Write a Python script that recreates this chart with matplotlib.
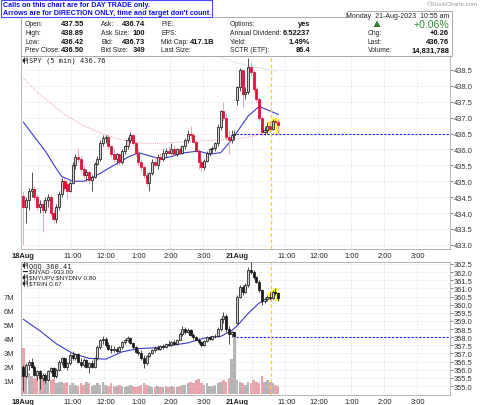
import matplotlib
matplotlib.use("Agg")
import matplotlib.pyplot as plt
from matplotlib.patches import Rectangle, Polygon
from matplotlib.lines import Line2D
import numpy as np

plt.rcParams['font.family'] = ['Liberation Sans', 'DejaVu Sans']

# ---------------- data ----------------
spy_open = [434.55, 434.2, 434.4, 434.7, 434.75, 434.5, 434.2, 434.3, 434.1, 434.4,
            434.5, 434.0, 433.8, 434.2, 434.6, 435.0, 434.9, 434.7, 434.95, 435.5,
            435.75, 435.7, 435.4, 435.2, 435.3, 435.05, 435.15, 435.55, 435.7, 436.2,
            436.35, 436.4, 436.1, 435.85, 435.7, 435.85, 435.6, 435.95, 436.1, 436.3,
            436.45, 436.2, 435.9, 435.6, 435.45, 435.2, 434.95, 435.25, 435.6, 435.5,
            435.75, 435.7, 435.9, 435.95, 435.9, 436.0, 435.85, 436.0, 435.9, 436.1,
            436.3, 436.5, 436.45, 436.25, 435.95, 435.6, 435.45, 435.65, 435.9, 436.0,
            436.05, 436.2, 436.7, 437.2, 437.0, 436.4, 436.3, 436.45,
            437.55, 437.95, 438.5, 437.75, 437.8, 438.6, 438.45, 437.9, 437.6, 437.0,
            436.55, 436.6, 436.75, 436.65, 436.9, 436.85]
spy_high = [434.7, 434.5, 434.8, 435.3, 434.85, 434.6, 434.4, 434.4, 434.5, 434.6,
            434.6, 434.1, 434.3, 434.7, 435.1, 435.1, 435.0, 435.0, 435.6, 435.85,
            436.0, 435.8, 435.5, 435.4, 435.35, 435.2, 435.6, 435.8, 436.3, 436.45,
            436.45, 436.5, 436.15, 436.0, 435.9, 435.9, 436.0, 436.15, 436.4, 436.55,
            436.5, 436.25, 436.0, 435.7, 435.5, 435.3, 435.3, 435.7, 435.8, 435.85,
            435.9, 436.0, 436.05, 436.1, 436.2, 436.15, 436.05, 436.1, 436.15, 436.35,
            436.6, 436.75, 436.55, 436.3, 436.0, 435.7, 435.7, 435.95, 436.05, 436.1,
            436.25, 436.8, 437.25, 437.5, 437.15, 436.6, 436.6, 436.6,
            438.0, 438.55, 438.5, 437.95, 438.89, 438.75, 438.5, 437.95, 437.65, 437.05,
            436.75, 436.85, 436.9, 436.95, 437.0, 436.95]
spy_low = [433.0, 433.7, 434.1, 434.5, 434.4, 434.1, 434.0, 433.4, 434.0, 434.2,
           433.9, 433.7, 433.7, 434.1, 434.5, 434.7, 434.45, 434.65, 434.9, 435.4,
           435.6, 435.3, 435.1, 435.0, 434.9, 434.7, 435.1, 435.5, 435.65, 436.1,
           436.2, 436.0, 435.75, 435.6, 435.55, 435.5, 435.55, 435.85, 436.0, 436.2,
           436.1, 435.8, 435.5, 435.3, 435.1, 434.85, 434.7, 435.2, 435.45, 435.4,
           435.6, 435.65, 435.75, 435.85, 435.85, 435.8, 435.8, 435.85, 435.85, 436.0,
           436.2, 436.35, 436.2, 435.9, 435.4, 435.3, 435.35, 435.6, 435.8, 435.9,
           435.95, 436.1, 436.6, 436.9, 436.3, 435.85, 436.2, 436.3,
           437.4, 437.85, 437.35, 437.6, 437.75, 438.3, 437.8, 437.5, 436.9, 436.42,
           436.45, 436.5, 436.55, 436.6, 436.8, 436.5]
spy_close = [434.2, 434.4, 434.7, 434.75, 434.5, 434.2, 434.3, 434.1, 434.4, 434.5,
             434.0, 433.8, 434.2, 434.6, 435.0, 434.8, 434.7, 434.95, 435.5, 435.75,
             435.7, 435.4, 435.2, 435.3, 435.05, 435.15, 435.55, 435.7, 436.2, 436.35,
             436.4, 436.1, 435.85, 435.7, 435.85, 435.6, 435.95, 436.1, 436.3, 436.45,
             436.2, 435.9, 435.6, 435.45, 435.2, 434.95, 435.25, 435.6, 435.5, 435.75,
             435.7, 435.9, 435.95, 435.9, 436.0, 435.85, 436.0, 435.9, 436.1, 436.3,
             436.5, 436.45, 436.25, 435.95, 435.6, 435.45, 435.65, 435.9, 436.0, 436.05,
             436.2, 436.7, 437.2, 437.0, 436.4, 436.3, 436.45, 436.5,
             437.95, 438.5, 437.75, 437.8, 438.6, 438.45, 437.9, 437.6, 437.0, 436.55,
             436.6, 436.75, 436.65, 436.9, 436.85, 436.76]

qqq_open = [356.2, 355.6, 356.3, 356.5, 356.2, 355.7, 355.9, 355.5, 355.7, 355.4,
            355.9, 356.1, 355.6, 356.0, 356.5, 356.7, 356.2, 356.4, 356.9, 356.7,
            356.95, 356.5, 356.3, 356.6, 356.2, 356.4, 356.2, 356.7, 357.4, 357.8,
            357.9, 357.5, 357.3, 357.2, 357.3, 357.15, 357.4, 357.7, 357.85, 357.95,
            357.65, 357.4, 357.1, 357.0, 356.7, 356.4, 356.85, 357.05, 357.2, 357.35,
            357.3, 357.45, 357.4, 357.6, 357.5, 357.7, 357.6, 357.85, 358.2, 358.5,
            358.3, 358.45, 358.15, 358.0, 357.85, 357.7, 357.5, 357.75, 358.0, 357.9,
            358.05, 358.1, 358.5, 359.1, 359.3, 358.5, 358.2, 358.3,
            358.9, 360.5, 361.1, 360.8, 361.2, 362.1, 362.0, 361.7, 361.4, 360.9,
            360.2, 360.35, 360.5, 360.4, 360.8, 360.7]
qqq_high = [356.3, 356.4, 356.6, 356.7, 356.3, 356.0, 356.0, 355.8, 355.8, 356.0,
            356.2, 356.2, 356.1, 356.6, 356.8, 356.8, 356.5, 357.0, 357.15, 357.0,
            357.0, 356.7, 356.7, 356.65, 356.5, 356.6, 356.8, 357.5, 357.9, 358.1,
            358.0, 357.7, 357.5, 357.45, 357.4, 357.45, 357.75, 357.9, 358.05, 358.0,
            357.7, 357.45, 357.3, 357.2, 356.9, 356.9, 357.1, 357.3, 357.45, 357.55,
            357.5, 357.6, 357.65, 357.8, 357.75, 357.85, 357.9, 358.3, 358.7, 358.6,
            358.55, 358.5, 358.25, 358.1, 357.95, 357.75, 357.8, 358.05, 358.1, 358.1,
            358.2, 358.6, 359.2, 359.55, 359.4, 358.7, 358.4, 358.4,
            360.6, 361.2, 361.2, 361.3, 362.3, 362.6, 362.1, 361.75, 361.5, 360.95,
            360.45, 360.6, 360.8, 360.9, 361.0, 360.8]
qqq_low = [354.7, 355.5, 356.0, 356.1, 355.6, 355.4, 354.8, 355.3, 355.2, 355.3,
           355.8, 355.5, 355.5, 355.9, 356.3, 356.1, 356.0, 356.3, 356.6, 356.6,
           356.4, 356.2, 356.2, 356.1, 355.8, 356.1, 356.1, 356.6, 357.3, 357.6,
           357.4, 357.2, 357.0, 357.1, 357.05, 357.1, 357.3, 357.6, 357.7, 357.6,
           357.3, 357.0, 356.9, 356.6, 356.1, 356.3, 356.8, 356.95, 357.1, 357.2,
           357.2, 357.3, 357.35, 357.45, 357.45, 357.55, 357.55, 357.8, 358.1, 358.2,
           358.25, 358.1, 357.9, 357.8, 357.6, 357.4, 357.45, 357.7, 357.85, 357.85,
           357.95, 358.0, 358.4, 358.9, 358.3, 357.6, 358.0, 358.0,
           358.8, 360.4, 360.6, 360.7, 361.1, 361.9, 361.6, 361.3, 360.8, 360.0,
           360.1, 360.2, 360.3, 360.35, 360.6, 360.2]
qqq_close = [355.6, 356.3, 356.5, 356.2, 355.7, 355.9, 355.5, 355.7, 355.4, 355.9,
             356.1, 355.6, 356.0, 356.5, 356.7, 356.2, 356.4, 356.9, 356.7, 356.95,
             356.5, 356.3, 356.6, 356.2, 356.4, 356.2, 356.7, 357.4, 357.8, 357.9,
             357.5, 357.3, 357.2, 357.3, 357.15, 357.4, 357.7, 357.85, 357.95, 357.65,
             357.4, 357.1, 357.0, 356.7, 356.4, 356.85, 357.05, 357.2, 357.35, 357.3,
             357.45, 357.4, 357.6, 357.5, 357.7, 357.6, 357.85, 358.2, 358.5, 358.3,
             358.45, 358.15, 358.0, 357.85, 357.7, 357.5, 357.75, 358.0, 357.9, 358.05,
             358.1, 358.5, 359.1, 359.3, 358.5, 358.2, 358.3, 358.1,
             360.5, 361.1, 360.8, 361.2, 362.1, 362.0, 361.7, 361.4, 360.9, 360.2,
             360.35, 360.5, 360.4, 360.8, 360.7, 360.41]

volume_m = [3.3, 2.0, 1.5, 1.3, 1.2, 1.4, 1.1, 1.3, 1.0, 0.9, 1.0, 1.1, 0.8, 0.9, 0.9, 0.8,
            0.9, 0.7, 0.8, 0.7, 0.6, 0.8, 0.7, 0.9, 0.8, 0.6, 0.7, 0.8, 0.7, 0.9, 0.7, 0.6,
            0.8, 0.6, 0.6, 0.7, 0.6, 0.5, 0.6, 0.7, 0.6, 0.5, 0.6, 0.7, 0.8, 0.7, 0.6, 0.5,
            0.5, 0.6, 0.5, 0.5, 0.6, 0.5, 0.6, 0.5, 0.5, 0.6, 0.7, 0.7, 0.8, 0.9, 0.8, 1.0,
            1.1, 0.8, 0.7, 0.8, 0.6, 0.6, 0.7, 0.8, 0.9, 1.0, 0.9, 1.2, 2.5, 4.3,
            1.0, 0.9, 0.8, 0.7, 0.9, 0.8, 1.0, 0.9, 0.8, 1.3, 0.9, 1.0, 0.9, 0.8, 0.7, 0.6]

# moving averages (bar index, value)
spy_ma_idx = [0, 4, 8, 12, 14, 18, 22, 26, 30, 34, 38, 42, 46, 50, 54, 59, 64, 68, 72,
              75, 78, 82, 86, 89, 93]
spy_ma_val = [436.86, 436.4, 435.95, 435.4, 435.15, 435.0, 435.0, 435.15, 435.35, 435.55,
              435.75, 435.9, 435.8, 435.7, 435.78, 435.9, 435.95, 435.85, 435.9, 436.2,
              436.55, 437.05, 437.35, 437.25, 437.1]
spy_ma50_idx = [0, 5, 10, 15, 22, 30, 38, 46, 55, 65, 72, 78, 84, 90, 93]
spy_ma50_val = [438.25, 437.8, 437.45, 437.1, 436.75, 436.45, 436.25, 436.18, 436.22, 436.27,
                436.3, 436.33, 436.42, 436.6, 436.68]
spy_ma200_idx = [60, 66, 72, 78, 84, 90, 93]
spy_ma200_val = [439.15, 439.05, 438.9, 438.72, 438.6, 438.5, 438.46]
qqq_ma_idx = [0, 6, 12, 18, 24, 30, 36, 42, 48, 54, 60, 66, 72, 76, 78, 82, 86, 89]
qqq_ma_val = [359.1, 358.4, 357.6, 357.0, 356.7, 356.65, 357.1, 357.3, 357.35, 357.5,
              357.65, 357.95, 358.05, 358.4, 358.7, 359.45, 360.1, 360.3]

price_ticks_spy = [433.0, 433.5, 434.0, 434.5, 435.0, 435.5, 436.0, 436.5, 437.0, 437.5, 438.0, 438.5]
price_ticks_qqq = [355.0, 355.5, 356.0, 356.5, 357.0, 357.5, 358.0, 358.5, 359.0, 359.5,
                   360.0, 360.5, 361.0, 361.5, 362.0, 362.5]
vol_ticks = [1, 2, 3, 4, 5, 6, 7]
time_tick_idx = [0, 18, 30, 42, 54, 66, 78, 96, 108, 120, 132, 144]
time_tick_lbl = ['18Aug', '11:00', '12:00', '1:00', '2:00', '3:00', '21Aug', '11:00', '12:00',
                 '1:00', '2:00', '3:00']
minor_grid_idx = [6, 84]
spy_prev_close = 436.50
qqq_prev_close = 358.0
marker_idx = 90.2
highlight_from = 90

# ---------------- figure ----------------
W, H = 480, 406
fig = plt.figure(figsize=(W / 100, H / 100), dpi=100)

def fx(x):
    return x / W

def fy(y):
    return 1 - y / H

RED = '#d8143a'
PINK = '#ee98a4'
BLUE_MA = '#3c3cc8'
GRIDC = '#d4d4d4'
XL = (-0.87, 155.7)
n = len(spy_close)
idx = np.arange(n)

axA = fig.add_axes([fx(21), fy(250), fx(450) - fx(21), fy(57) - fy(250)])
axB = fig.add_axes([fx(21), fy(396), fx(450) - fx(21), fy(263) - fy(396)])
axV = axB.twinx()

def style_axis(ax, ticks, ylim):
    ax.set_xlim(*XL)
    ax.set_ylim(*ylim)
    ax.yaxis.tick_right()
    ax.set_yticks(ticks)
    ax.set_yticklabels(['%.1f' % t for t in ticks])
    ax.tick_params(axis='y', labelsize=5.4, length=2, width=0.5, pad=1, colors='#555555',
                   labelcolor='#333333')
    ax.set_xticks(time_tick_idx)
    ax.tick_params(axis='x', length=0, labelsize=5.4, pad=2, labelcolor='#222222')
    for t in ticks:
        ax.axhline(t, color=GRIDC, lw=0.5, ls=(0, (1, 1.5)), zorder=0)
    for t in time_tick_idx[1:] + minor_grid_idx:
        ax.axvline(t - 0.5, color=GRIDC, lw=0.5, ls=(0, (1, 1.5)), zorder=0)
    for s in ax.spines.values():
        s.set_color('#aaaaaa')
        s.set_linewidth(0.6)

style_axis(axA, price_ticks_spy, (432.87, 438.94))
style_axis(axB, price_ticks_qqq, (354.45, 362.62))

for ax in (axA, axB):
    ax.set_xticklabels(time_tick_lbl)
    for lab in ax.get_xticklabels():
        if 'Aug' in lab.get_text():
            lab.set_fontweight('bold')

def draw_candles(ax, o, h, l, c, colored, z=3):
    w = 0.75
    for i in range(len(c)):
        up = c[i] >= o[i]
        prev = c[i - 1] if i > 0 else o[i]
        if colored and c[i] < prev:
            col, wick, face = RED, PINK, RED
        else:
            col, wick, face = '#1a1a1a', '#333333', '#1a1a1a'
        if i >= highlight_from:
            ax.vlines(i, l[i], h[i], color='#ffff40', lw=3.2, zorder=z - 1)
            ax.add_patch(Rectangle((i - w / 2 - 0.35, min(o[i], c[i]) - 0.05), w + 0.7,
                                   abs(c[i] - o[i]) + 0.1, facecolor='#ffff40',
                                   edgecolor='none', zorder=z - 1))
        ax.vlines(i, l[i], h[i], color=wick, lw=0.6, zorder=z)
        bot = min(o[i], c[i])
        hgt = max(abs(c[i] - o[i]), 0.02)
        if up:
            ax.add_patch(Rectangle((i - w / 2, bot), w, hgt,
                                   facecolor='#d0d0d0' if col != RED else '#f6c8d0',
                                   edgecolor=col, lw=0.55, zorder=z + 0.5))
        else:
            ax.add_patch(Rectangle((i - w / 2, bot), w, hgt, facecolor=face,
                                   edgecolor=col, lw=0.55, zorder=z + 0.5))

# volume bars (behind QQQ)
vol_col = []
for i in range(n):
    prev = spy_close[i - 1] if i > 0 else spy_open[i]
    vol_col.append('#e9a3ab' if spy_close[i] < prev else '#b4b4b4')
axV.bar(idx, volume_m, width=0.92, color=vol_col, edgecolor='none', zorder=1)
axV.set_ylim(-0.05, 9.45)
axV.yaxis.tick_left()
axV.set_yticks(vol_ticks)
axV.set_yticklabels(['%dM' % v for v in vol_ticks])
axV.tick_params(axis='y', labelsize=5.4, length=0, pad=5, labelcolor='#333333')
axV.set_xlim(*XL)
for s in axV.spines.values():
    s.set_visible(False)
axB.set_zorder(axV.get_zorder() + 1)
axB.patch.set_visible(False)

draw_candles(axA, spy_open, spy_high, spy_low, spy_close, True)
draw_candles(axB, qqq_open, qqq_high, qqq_low, qqq_close, False)

axA.plot(spy_ma_idx, spy_ma_val, color=BLUE_MA, lw=0.8, zorder=2)
axA.plot(spy_ma50_idx, spy_ma50_val, color='#f2a0a0', lw=0.7, ls=(0, (1, 1)), zorder=2)
axA.plot(spy_ma200_idx, spy_ma200_val, color='#c8c8c8', lw=0.7, ls=(0, (1, 1)), zorder=2)
axB.plot(qqq_ma_idx, qqq_ma_val, color=BLUE_MA, lw=0.8, zorder=2)

axA.hlines(spy_prev_close, 77.5, XL[1], color='#2020ee', lw=0.8, ls=(0, (2, 1.5)), zorder=2)
axB.hlines(qqq_prev_close, 77.5, XL[1], color='#2020ee', lw=0.8, ls=(0, (2, 1.5)), zorder=2)
for ax in (axA, axB):
    ax.axvline(marker_idx, color='#ffcc22', lw=0.9, ls=(0, (3, 2)), zorder=2)

# ---------------- legends (small candle icons drawn as shapes) ----------------
MONO = ['DejaVu Sans Mono', 'DejaVu Sans']

def candle_icon(x, y):
    # tiny candlestick glyph at pixel position (x, y) = centre
    for dx, top, bot in ((0, -3, 3), (2.5, -2.5, 2.5)):
        fig.add_artist(Line2D([fx(x + dx), fx(x + dx)], [fy(y + top), fy(y + bot)],
                              transform=fig.transFigure, color='#222222', lw=0.5))
    fig.patches.append(Rectangle((fx(x - 0.8), fy(y + 1.5)), fx(1.6), fy(y - 1.5) - fy(y + 1.5),
                                 transform=fig.transFigure, facecolor='#222222',
                                 edgecolor='#222222', lw=0.3))
    fig.patches.append(Rectangle((fx(x + 1.7), fy(y + 1)), fx(1.6), fy(y - 1.8) - fy(y + 1),
                                 transform=fig.transFigure, facecolor='white',
                                 edgecolor='#222222', lw=0.3))

candle_icon(24, 61)
fig.text(fx(29), fy(61), 'SPY (5 min) 436.76', fontsize=5.0, family=MONO, va='center',
         ha='left', color='#222222')
legB = [('QQQ 360.41', 'icon', MONO, 5.0), ('\\$NYAD -933.00', 'dash', None, 4.6),
        ('\\$NYUPV:\\$NYDNV 0.80', 'icon', None, 4.6), ('\\$TRIN 0.67', 'icon', None, 4.6)]
for k, (t, kind, fam, fs) in enumerate(legB):
    yy = 266 + k * 6
    if kind == 'icon':
        candle_icon(24, yy)
    else:
        fig.add_artist(Line2D([fx(22.5), fx(27)], [fy(yy), fy(yy)], transform=fig.transFigure,
                              color='#222222', lw=0.8))
    fig.text(fx(29), fy(yy), t, fontsize=fs, family=fam if fam else ['Liberation Sans', 'DejaVu Sans'],
             va='center', ha='left', color='#222222')

# ---------------- header / info table ----------------
frame = [(21, 57), (21, 18), (347, 18), (347, 12), (452, 12), (452, 57)]
fig.patches.append(Polygon([[fx(a), fy(b)] for a, b in frame], closed=True,
                           transform=fig.transFigure, facecolor='white',
                           edgecolor='#a0a0a0', lw=0.6))
fig.patches.append(Rectangle((fx(0.5), fy(18)), fx(211), fy(0.5) - fy(18),
                             transform=fig.transFigure, facecolor='white',
                             edgecolor='#4a4aff', lw=0.8))
fig.text(fx(3), fy(5.5), 'Calls on this chart are for DAY TRADE only.', color='#1010ee',
         fontsize=5.1, fontweight='bold', va='center', ha='left')
fig.text(fx(3), fy(13.3), "Arrows are for DIRECTION ONLY, time and target don't count.",
         color='#1010ee', fontsize=5.1, fontweight='bold', va='center', ha='left')
fig.text(fx(478), fy(5), '\u00a9StockCharts.com', color='#999999', fontsize=4.4,
         va='center', ha='right')
fig.text(fx(449), fy(16), 'Monday  21-Aug-2023  10:55 am', color='#222222', fontsize=5.0,
         va='center', ha='right')

rows_y = [25, 33.8, 42.5, 51]
col1 = [('Open:', '437.55'), ('High:', '438.89'), ('Low:', '436.42'), ('Prev Close:', '436.50')]
col2 = [('Ask:', '436.74'), ('Ask Size:', '100'), ('Bid:', '436.73'), ('Bid Size:', '349')]
col3 = [('P/E:', ''), ('EPS:', ''), ('Mkt Cap:', '417.1B'), ('Last Size:', '')]
col4 = [('Options:', 'yes'), ('Annual Dividend:', '6.52237'), ('Yield:', '1.49%'),
        ('SCTR (ETF):', '86.4')]
for cols, xl, xv in ((col1, 25, 84), (col2, 101, 145), (col3, 161, 214), (col4, 230, 310)):
    for (lab, val), yy in zip(cols, rows_y):
        fig.text(fx(xl), fy(yy), lab, fontsize=4.9, color='#222222', va='center', ha='left')
        if val:
            fig.text(fx(xv), fy(yy), val, fontsize=5.4, fontweight='bold', color='#111111',
                     va='center', ha='right')
right_rows = [('Chg:', '+0.26'), ('Last:', '436.76'), ('Volume:', '14,831,788')]
for (lab, val), yy in zip(right_rows, rows_y[1:]):
    fig.text(fx(368), fy(yy), lab, fontsize=4.9, color='#222222', va='center', ha='left')
    fig.text(fx(449), fy(yy), val, fontsize=5.4, fontweight='bold', color='#111111',
             va='center', ha='right')
fig.patches.append(Polygon([[fx(373.5), fy(28)], [fx(380.5), fy(28)], [fx(377), fy(21.5)]],
                           closed=True, transform=fig.transFigure, facecolor='#2e7d32',
                           edgecolor='none'))
fig.text(fx(449), fy(24.5), '+0.06%', fontsize=7.6, color='#2e8b3a', va='center', ha='right')

fig.savefig('out.png', dpi=100)
